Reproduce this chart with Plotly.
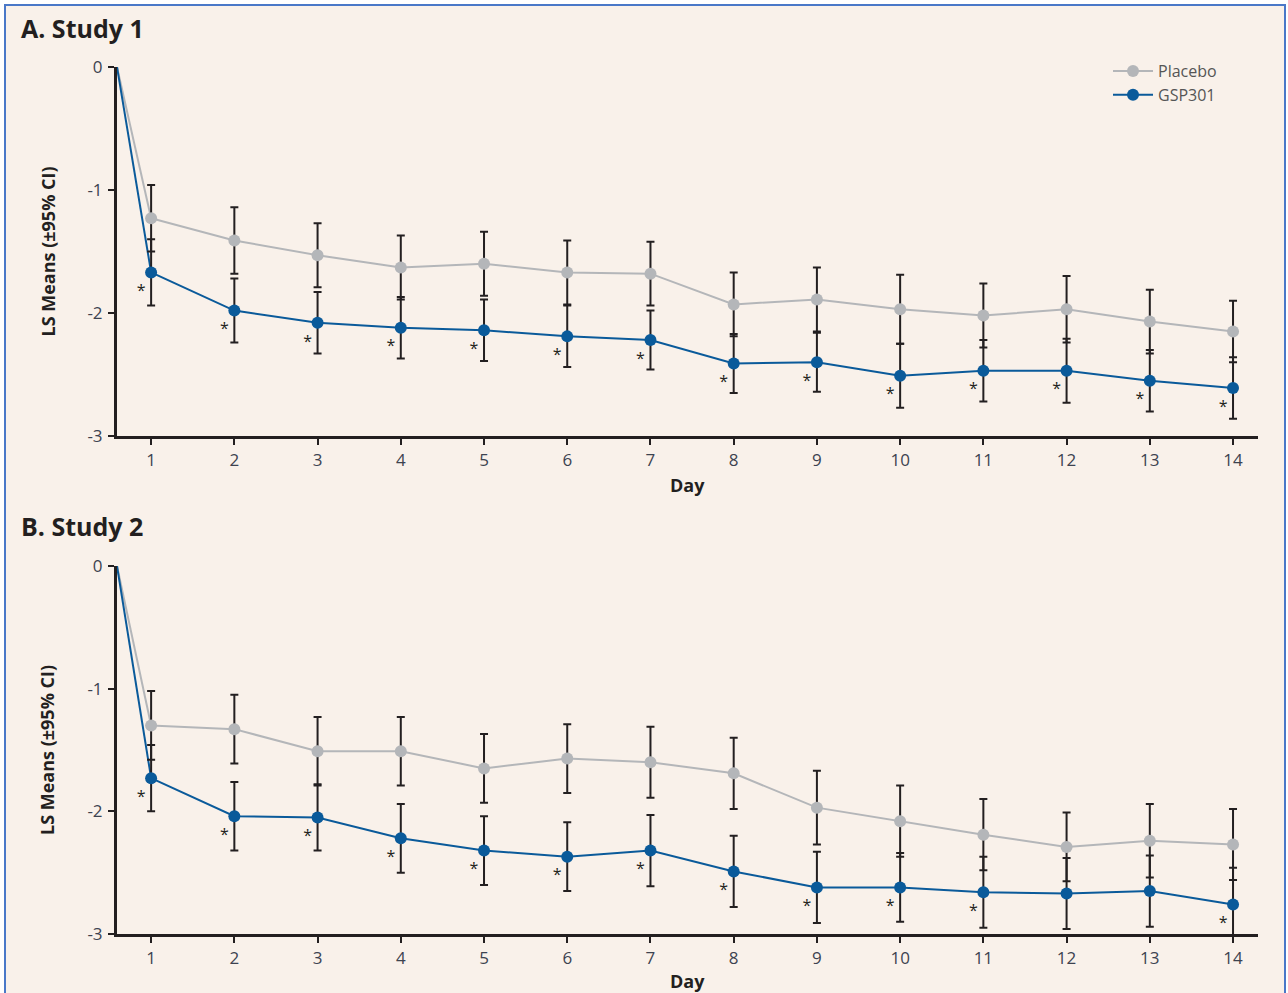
import plotly.graph_objects as go
from plotly.subplots import make_subplots

W, H = 1288, 993
days = list(range(1, 15))

# Study 1
s1_placebo = [-1.23, -1.41, -1.53, -1.63, -1.60, -1.67, -1.68, -1.93, -1.89, -1.97, -2.02, -1.97, -2.07, -2.15]
s1_placebo_ci = [0.27, 0.27, 0.26, 0.26, 0.26, 0.26, 0.26, 0.26, 0.26, 0.28, 0.26, 0.27, 0.26, 0.25]
s1_gsp = [-1.67, -1.98, -2.08, -2.12, -2.14, -2.19, -2.22, -2.41, -2.40, -2.51, -2.47, -2.47, -2.55, -2.61]
s1_gsp_ci = [0.27, 0.26, 0.25, 0.25, 0.25, 0.25, 0.24, 0.24, 0.24, 0.26, 0.25, 0.26, 0.25, 0.25]
s1_sig = [True] * 14

# Study 2
s2_placebo = [-1.30, -1.33, -1.51, -1.51, -1.65, -1.57, -1.60, -1.69, -1.97, -2.08, -2.19, -2.29, -2.24, -2.27]
s2_placebo_ci = [0.28, 0.28, 0.28, 0.28, 0.28, 0.28, 0.29, 0.29, 0.30, 0.29, 0.29, 0.28, 0.30, 0.29]
s2_gsp = [-1.73, -2.04, -2.05, -2.22, -2.32, -2.37, -2.32, -2.49, -2.62, -2.62, -2.66, -2.67, -2.65, -2.76]
s2_gsp_ci = [0.27, 0.28, 0.27, 0.28, 0.28, 0.28, 0.29, 0.29, 0.29, 0.28, 0.29, 0.29, 0.29, 0.30]
s2_sig = [True] * 11 + [False, False, True]

baseline_value = 0.0
x_start = 0.59
x_end = 14.3

GRAY = "#b4b6b9"
BLUE = "#0a5a9a"
BAR = "#231f20"
BG = "#f9f1ea"
FONT = "Open Sans"

fig = make_subplots(rows=2, cols=1)

def add_panel(row, placebo, pci, gsp, gci, sig, show_legend):
    series = [("Placebo", placebo, pci, GRAY), ("GSP301", gsp, gci, BLUE)]
    # segments from baseline to day 1
    for name, vals, ci, color in series:
        fig.add_trace(go.Scatter(
            x=[x_start, days[0]], y=[baseline_value, vals[0]], mode="lines",
            line=dict(color=color, width=2), showlegend=False, hoverinfo="skip", cliponaxis=False,
        ), row=row, col=1)
    for name, vals, ci, color in series:
        fig.add_trace(go.Scatter(
            x=days, y=vals,
            mode="lines+markers", name=name, showlegend=show_legend, legendgroup=name,
            line=dict(color=color, width=2),
            marker=dict(color=color, size=12),
            error_y=dict(type="data", array=ci, color=BAR, thickness=2, width=4),
            cliponaxis=False,
        ), row=row, col=1)
    sx = [d - 0.12 for d, s in zip(days, sig) if s]
    sy = [v - 0.16 for v, s in zip(gsp, sig) if s]
    fig.add_trace(go.Scatter(
        x=sx, y=sy, mode="text", text=["*"] * len(sx), showlegend=False,
        textfont=dict(color=BAR, size=16, family=FONT), hoverinfo="skip", cliponaxis=False,
    ), row=row, col=1)

add_panel(1, s1_placebo, s1_placebo_ci, s1_gsp, s1_gsp_ci, s1_sig, True)
add_panel(2, s2_placebo, s2_placebo_ci, s2_gsp, s2_gsp_ci, s2_sig, False)

xd = [117 / W, 1258 / W]
ydA = [1 - 436 / H, 1 - 67 / H]
ydB = [1 - 934 / H, 1 - 566 / H]

axis_common = dict(showgrid=False, zeroline=False, showline=True, linecolor=BAR, linewidth=3,
                   ticks="outside", ticklen=6, tickwidth=2, tickcolor=BAR, automargin=False,
                   tickfont=dict(family=FONT, size=17, color="#3d4350"))
for i, yd in [(1, ydA), (2, ydB)]:
    fig.update_xaxes(domain=xd, range=[x_start, x_end], tickvals=days,
                     ticktext=[str(d) for d in days], ticklabelstandoff=1, **axis_common, row=i, col=1)
    fig.update_yaxes(domain=yd, range=[-3, 0], tickvals=[0, -1, -2, -3],
                     ticktext=["0", "-1", "-2", "-3"], ticklabelstandoff=2, **axis_common, row=i, col=1)

annotations = []
for title, ty, yd in [("A. Study 1", 28, ydA), ("B. Study 2", 526, ydB)]:
    annotations.append(dict(text=f"<b>{title}</b>", x=19 / W, y=1 - ty / H, xref="paper", yref="paper",
                            xanchor="left", yanchor="middle", showarrow=False,
                            font=dict(family=FONT, size=25, color="#231f20")))
    annotations.append(dict(text="<b>LS Means (±95% CI)</b>", x=47 / W, y=(yd[0] + yd[1]) / 2,
                            xref="paper", yref="paper", textangle=-90, showarrow=False,
                            xanchor="center", yanchor="middle",
                            font=dict(family=FONT, size=18, color="#231f20")))
for dy in [485, 981]:
    annotations.append(dict(text="<b>Day</b>", x=687 / W, y=1 - dy / H, xref="paper", yref="paper",
                            showarrow=False, xanchor="center", yanchor="middle",
                            font=dict(family=FONT, size=18, color="#231f20")))

fig.update_layout(
    width=W, height=H, margin=dict(l=0, r=0, t=0, b=0, autoexpand=False),
    paper_bgcolor="white", plot_bgcolor="rgba(0,0,0,0)",
    font=dict(family=FONT),
    annotations=annotations,
    shapes=[dict(type="rect", xref="paper", yref="paper", x0=5 / W, x1=1285 / W, y0=-0.02, y1=1 - 5 / H,
                 fillcolor=BG, line=dict(color="#4a78c8", width=2), layer="below")],
    legend=dict(x=1108 / W, y=1 - 54 / H, xanchor="left", yanchor="top", bgcolor="rgba(0,0,0,0)",
                font=dict(family=FONT, size=16, color="#555555"), tracegroupgap=0,
                itemwidth=40),
)

fig.write_html("out.html", config={"displayModeBar": False},
               post_script="document.body.style.margin='0';")
